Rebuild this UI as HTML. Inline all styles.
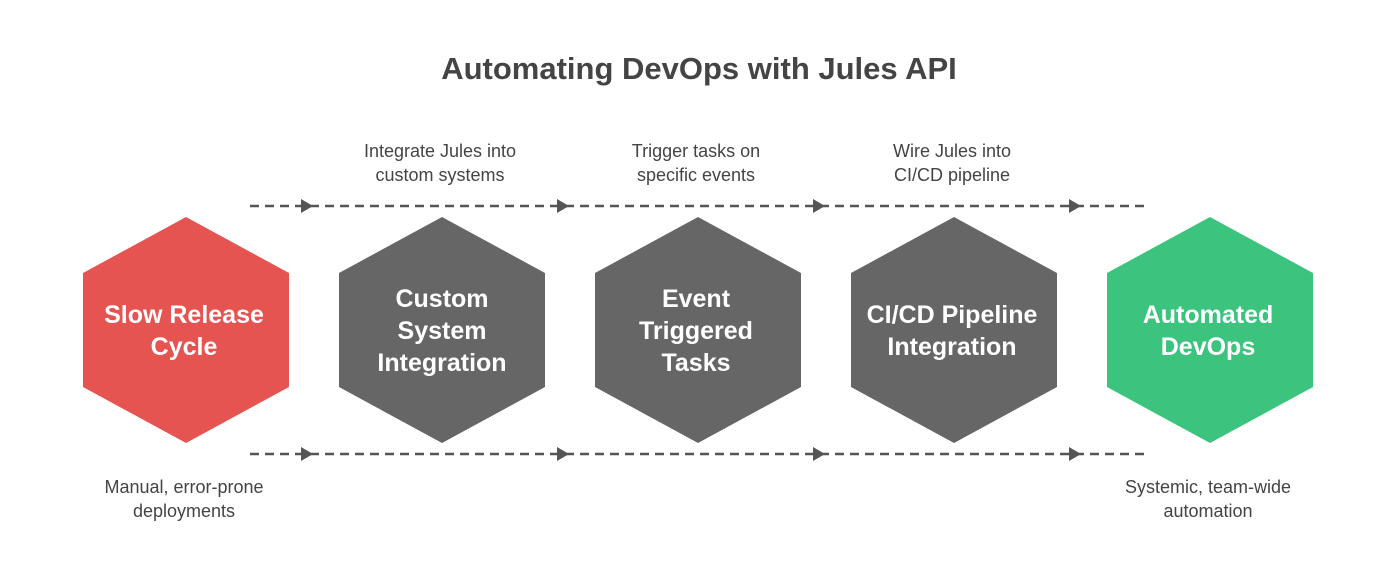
<!DOCTYPE html>
<html><head><style>
body{margin:0;background:#fff;}
svg text{font-family:"Liberation Sans",sans-serif;}
</style></head><body>
<svg width="1400" height="566" viewBox="0 0 1400 566" xmlns="http://www.w3.org/2000/svg">
<text x="699" y="79" text-anchor="middle" font-size="31" font-weight="bold" fill="#444">Automating DevOps with Jules API</text>
<g stroke="#555" stroke-width="2.5" stroke-dasharray="9,6">
<line x1="250" y1="206" x2="1148" y2="206"/>
<line x1="250" y1="454" x2="1148" y2="454"/>
</g>
<g fill="#555">
<polygon points="301,199 313,206 301,213"/><polygon points="557,199 569,206 557,213"/><polygon points="813,199 825,206 813,213"/><polygon points="1069,199 1081,206 1069,213"/>
<polygon points="301,447 313,454 301,461"/><polygon points="557,447 569,454 557,461"/><polygon points="813,447 825,454 813,461"/><polygon points="1069,447 1081,454 1069,461"/>
</g>
<polygon points="186,217 289,273 289,387 186,443 83,387 83,273" fill="#e55451"/>
<polygon points="442,217 545,273 545,387 442,443 339,387 339,273" fill="#666"/>
<polygon points="698,217 801,273 801,387 698,443 595,387 595,273" fill="#666"/>
<polygon points="954,217 1057,273 1057,387 954,443 851,387 851,273" fill="#666"/>
<polygon points="1210,217 1313,273 1313,387 1210,443 1107,387 1107,273" fill="#3cc47f"/>
<g font-size="25" font-weight="bold" fill="#fff" text-anchor="middle">
<text x="184" y="323">Slow Release</text><text x="184" y="355">Cycle</text>
<text x="442" y="307">Custom</text><text x="442" y="339">System</text><text x="442" y="371">Integration</text>
<text x="696" y="307">Event</text><text x="696" y="339">Triggered</text><text x="696" y="371">Tasks</text>
<text x="952" y="323">CI/CD Pipeline</text><text x="952" y="355">Integration</text>
<text x="1208" y="323">Automated</text><text x="1208" y="355">DevOps</text>
</g>
<g font-size="18" fill="#444" text-anchor="middle">
<text x="440" y="157">Integrate Jules into</text><text x="440" y="181">custom systems</text>
<text x="696" y="157">Trigger tasks on</text><text x="696" y="181">specific events</text>
<text x="952" y="157">Wire Jules into</text><text x="952" y="181">CI/CD pipeline</text>
<text x="184" y="493">Manual, error-prone</text><text x="184" y="517">deployments</text>
<text x="1208" y="493">Systemic, team-wide</text><text x="1208" y="517">automation</text>
</g>
</svg>
</body></html>
